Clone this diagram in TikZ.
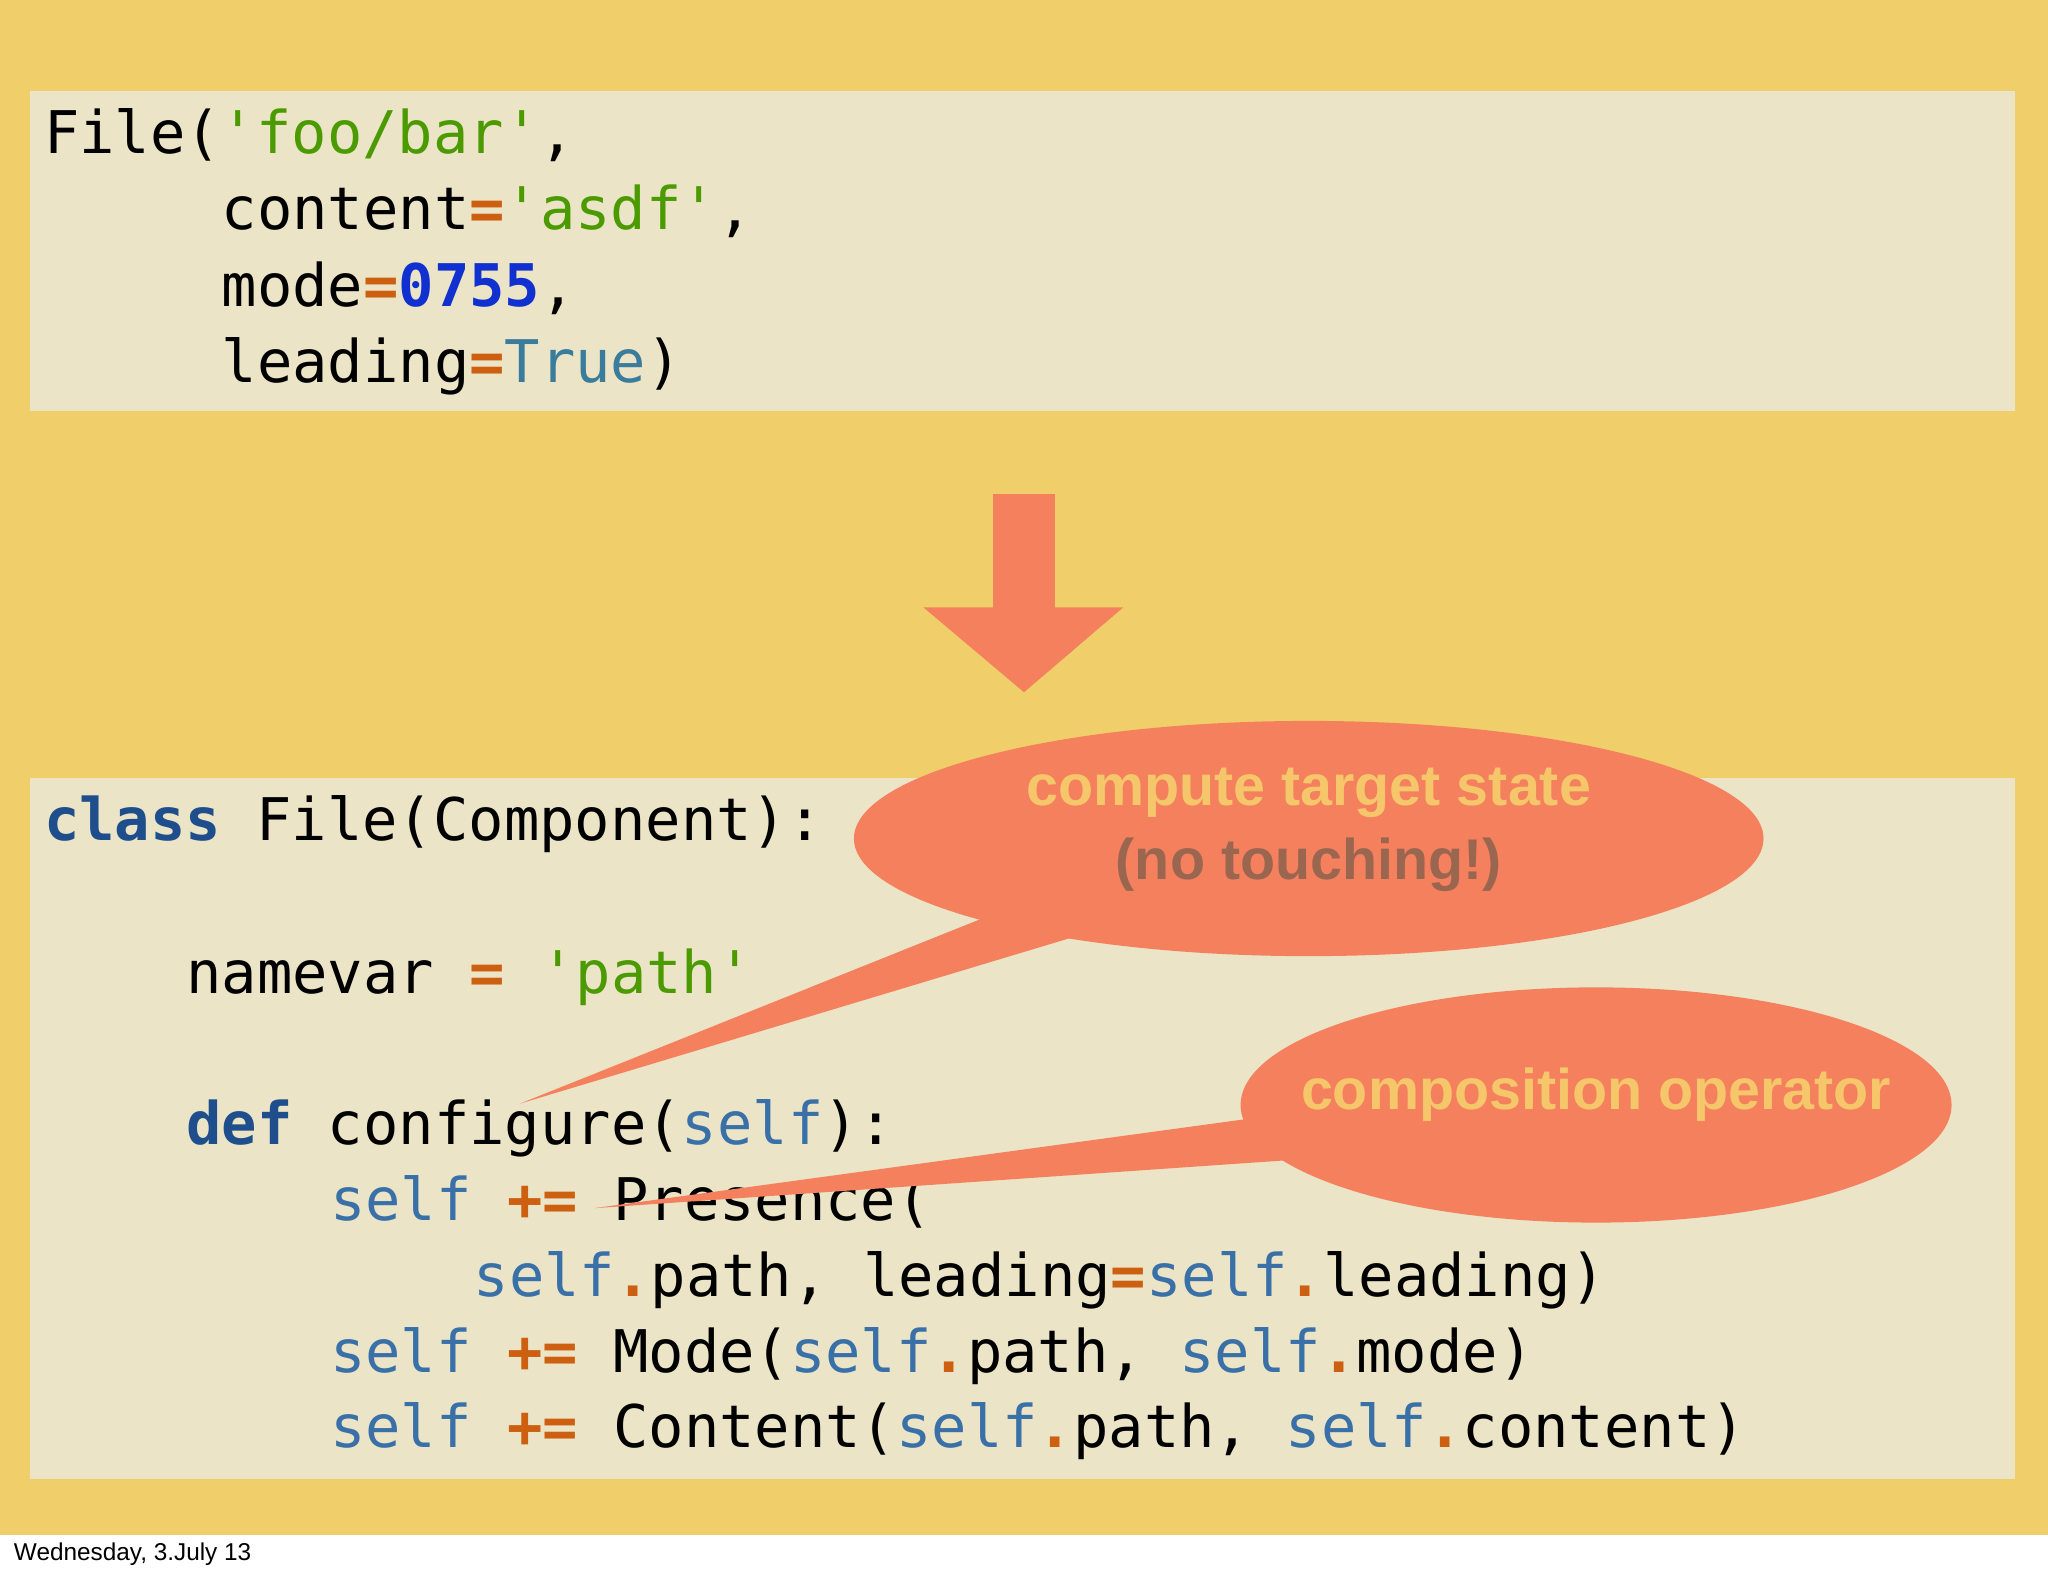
\documentclass[tikz,border=0pt]{standalone}
\usepackage{fontspec}
\setmonofont{DejaVu Sans Mono}
\setsansfont{Liberation Sans}
\usetikzlibrary{shapes.geometric}
\definecolor{bgy}{HTML}{F0CE6A}
\definecolor{boxc}{HTML}{EBE4C6}
\definecolor{blob}{HTML}{F4805E}
\definecolor{ckw}{HTML}{1F4E8C}
\definecolor{cself}{HTML}{3A70A8}
\definecolor{cstr}{HTML}{4A9A00}
\definecolor{cop}{HTML}{CC5F10}
\definecolor{cnum}{HTML}{1030D0}
\definecolor{ctrue}{HTML}{3A7C9C}
\definecolor{ctxt}{HTML}{F6C76A}
\definecolor{cgray}{HTML}{9A6650}
\newcommand\cK[1]{\textcolor{ckw}{\bfseries #1}}
\newcommand\cS[1]{\textcolor{cself}{#1}}
\newcommand\cT[1]{\textcolor{cstr}{#1}}
\newcommand\cO[1]{\textcolor{cop}{\bfseries #1}}
\newcommand\cN[1]{\textcolor{cnum}{\bfseries #1}}
\newcommand\cB[1]{\textcolor{ctrue}{#1}}
\tikzset{
  code/.style={font=\ttfamily\fontsize{12.8}{14}\selectfont, anchor=west, inner sep=0pt, text height=0.8em, text depth=0.2em},
  bubtxt/.style={font=\sffamily\bfseries\fontsize{12.5}{14}\selectfont, inner sep=0pt},
  blobfill/.style={fill=blob, draw=none}
}
\begin{document}
\begin{tikzpicture}[x=0.01cm,y=-0.01cm]
\useasboundingbox (0,0) rectangle (1568,1206);
\fill[white] (0,0) rectangle (1568,1206);
\fill[bgy] (0,0) rectangle (1568,1175);
\fill[boxc] (23,70) rectangle (1543,315);
\fill[boxc] (23,596) rectangle (1543,1132);
% top code
\node[code] (t1) at (33,107) {File(\cT{'foo/bar'},};
\node[code] (t2) at (169,165) {content\cO{=}\cT{'asdf'},};
\node[code] (t3) at (169,224) {mode\cO{=}\cN{0755},};
\node[code] (t4) at (169,282) {leading\cO{=}\cB{True})};
% arrow
\fill[blob] (760,378) rectangle (808,466);
\fill[blob] (707,465) -- (860,465) -- (784,530) -- cycle;
% bottom code
\node[code] (b1) at (33,633) {\cK{class} File(Component):};
\node[code] (b2) at (142,750) {namevar \cO{=} \cT{'path'}};
\node[code] (b3) at (142,866) {\cK{def} configure(\cS{self}):};
\node[code] (b4) at (252,924) {\cS{self} \cO{+=} Presence(};
\node[code] (b5) at (362,982) {\cS{self}\cO{.}path, leading\cO{=}\cS{self}\cO{.}leading)};
\node[code] (b6) at (252,1040) {\cS{self} \cO{+=} Mode(\cS{self}\cO{.}path, \cS{self}\cO{.}mode)};
\node[code] (b7) at (252,1098) {\cS{self} \cO{+=} Content(\cS{self}\cO{.}path, \cS{self}\cO{.}content)};
% bubble 1
\coordinate (p1) at (398,845);
\fill[blob] (760,700) -- (p1) -- (830,715) -- cycle;
\node[ellipse, blobfill, minimum width=696\pgflinewidth, inner sep=0pt, minimum width=6.96cm, minimum height=1.8cm] (e1) at (1002,642) {};
\node[bubtxt, text=ctxt] (e1a) at (1002,607) {compute target state};
\node[bubtxt, text=cgray] (e1b) at (1002,662) {(no touching!)};
% bubble 2
\coordinate (p2) at (455,925);
\fill[blob] (960,856) -- (p2) -- (990,888) -- cycle;
\node[ellipse, blobfill, inner sep=0pt, minimum width=5.44cm, minimum height=1.8cm] (e2) at (1222,846) {};
\node[bubtxt, text=ctxt] (e2a) at (1222,838) {composition operator};
% footer
\node[font=\sffamily\fontsize{5.3}{6}\selectfont, anchor=west, inner sep=0pt] (foot) at (10,1190) {Wednesday, 3.July 13};
\end{tikzpicture}
\end{document}
